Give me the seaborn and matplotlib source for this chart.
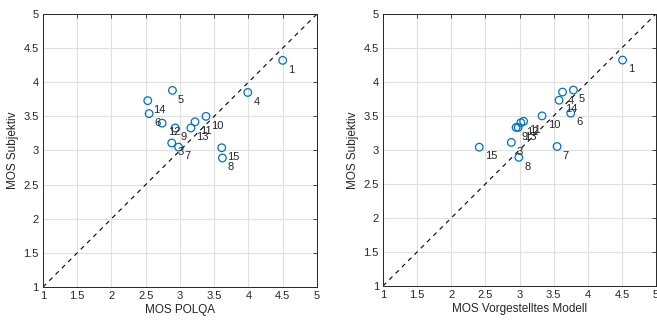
import matplotlib
matplotlib.use("Agg")
import matplotlib.pyplot as plt
import seaborn as sns
import pandas as pd

labels = ["1", "3", "4", "5", "6", "7", "8", "9", "10", "11", "12", "13", "14", "15"]
mos_subjektiv = [4.32, 3.11, 3.85, 3.88, 3.54, 3.05, 2.89, 3.33, 3.50, 3.42, 3.40, 3.33, 3.73, 3.04]
mos_polqa = [4.50, 2.88, 3.99, 2.89, 2.55, 2.98, 3.62, 2.93, 3.38, 3.22, 2.74, 3.16, 2.53, 3.61]
mos_modell = [4.51, 2.88, 3.63, 3.79, 3.75, 3.55, 2.99, 2.95, 3.33, 3.06, 3.02, 2.98, 3.58, 2.41]
ticks = [1, 1.5, 2, 2.5, 3, 3.5, 4, 4.5, 5]
tick_labels = ["1", "1.5", "2", "2.5", "3", "3.5", "4", "4.5", "5"]

df = pd.DataFrame({"label": labels, "subj": mos_subjektiv,
                   "polqa": mos_polqa, "modell": mos_modell})

sns.set_style("white")
plt.rcParams["font.family"] = ["Liberation Sans", "DejaVu Sans"]
text_col = "#262626"

fig = plt.figure(figsize=(6.57, 3.22), dpi=100)
ax1 = fig.add_axes([0.0654, 0.1087, 0.417, 0.848])
ax2 = fig.add_axes([0.583, 0.112, 0.4155, 0.845])

for ax, xcol, xlabel in [(ax1, "polqa", "MOS POLQA"), (ax2, "modell", "MOS Vorgestelltes Modell")]:
    ax.plot([1, 5], [1, 5], linestyle=(0, (4, 4)), color="black", linewidth=0.8, zorder=2)
    sns.scatterplot(data=df, x=xcol, y="subj", ax=ax, marker="o", s=30,
                    facecolors="none", edgecolor="#0072BD", linewidth=0.9, zorder=3)
    for _, r in df.iterrows():
        ax.annotate(r["label"], (r[xcol], r["subj"]), xytext=(4, -3),
                    textcoords="offset points", ha="left", va="top",
                    fontsize=8, color=text_col, zorder=4)
    ax.set_xlim(1, 5)
    ax.set_ylim(1, 5)
    ax.set_xticks(ticks)
    ax.set_xticklabels(tick_labels)
    ax.set_yticks(ticks)
    ax.set_yticklabels(tick_labels)
    ax.grid(True, color="#e0e0e0", linewidth=0.8)
    ax.set_axisbelow(True)
    ax.tick_params(direction="in", length=3, width=0.6, labelsize=8,
                   colors=text_col, top=True, right=True, pad=3)
    ax.tick_params(axis="both", which="both", labelcolor=text_col)
    for sp in ax.spines.values():
        sp.set_color(text_col)
        sp.set_linewidth(0.7)
    ax.set_xlabel(xlabel, fontsize=8.5, color=text_col, labelpad=2)
    ax.set_ylabel("MOS Subjektiv", fontsize=8.5, color=text_col, labelpad=3)

fig.savefig("out.png", dpi=100)
